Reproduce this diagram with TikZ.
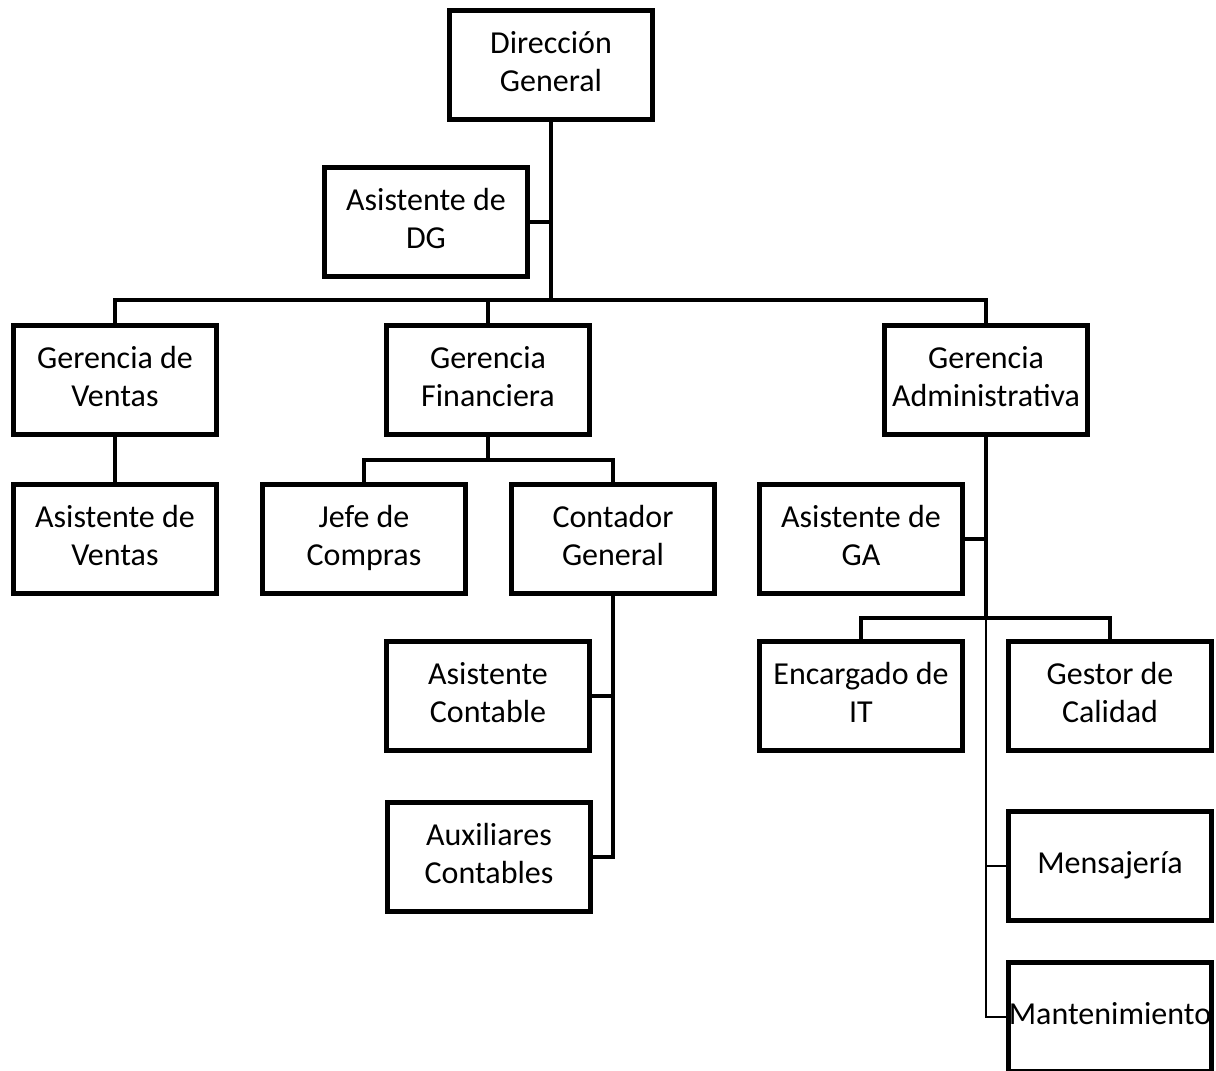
\documentclass[tikz,border=0pt]{standalone}
\usepackage{fontspec}
\setmainfont{Carlito}
\begin{document}
\begin{tikzpicture}[x=0.75pt,y=-0.75pt,
  unitbox/.style={draw, line width=4pt, fill=white, align=center,
    minimum width=152pt, minimum height=81.5pt, inner sep=0pt,
    text depth=6pt,
    font=\fontsize{24}{28.5}\selectfont},
  link/.style={line width=3.6pt},
  midlink/.style={line width=2.6pt},
  thinlink/.style={line width=1.8pt}]
\useasboundingbox (0,0) rectangle (1216,1070);
\clip (0,0) rectangle (1216,1070);

% boxes
\node[unitbox] (dg)   at (551,65)   {Dirección\\General};
\node[unitbox] (asdg) at (426,222)  {Asistente de\\DG};
\node[unitbox] (gv)   at (115,380)  {Gerencia de\\Ventas};
\node[unitbox] (gf)   at (488,380)  {Gerencia\\Financiera};
\node[unitbox] (ga)   at (986,380)  {Gerencia\\Administrativa};
\node[unitbox] (asv)  at (115,539)  {Asistente de\\Ventas};
\node[unitbox] (jc)   at (364,539)  {Jefe de\\Compras};
\node[unitbox] (cg)   at (613,539)  {Contador\\General};
\node[unitbox] (asga) at (861,539)  {Asistente de\\GA};
\node[unitbox] (asc)  at (488,696)  {Asistente\\Contable};
\node[unitbox] (auxc) at (489,857)  {Auxiliares\\Contables};
\node[unitbox] (eit)  at (861,696)  {Encargado de\\IT};
\node[unitbox] (gc)   at (1110,696) {Gestor de\\Calidad};
\node[unitbox] (mens) at (1110,866) {Mensajería};
\node[unitbox] (mant) at (1110,1017) {Mantenimiento};

% branch points
\coordinate (bus)  at (551,300);
\coordinate (gfb)  at (488,460);
\coordinate (gab)  at (986,618);

% top level
\draw[link] (dg.south) -- (bus);
\draw[midlink] (asdg.east) -- (asdg.east -| dg.south);
\draw[link] (gv.north) |- (bus) -| (ga.north);
\draw[link] (gf.north) -- (gf.north |- bus);

% ventas
\draw[link] (gv.south) -- (asv.north);

% financiera
\draw[link] (gf.south) -- (gfb);
\draw[link] (jc.north) |- (gfb) -| (cg.north);
\draw[link] (cg.south) |- (auxc.east);
\draw[midlink] (asc.east) -- (asc.east -| cg.south);

% administrativa
\draw[link] (ga.south) -- (gab);
\draw[midlink] (asga.east) -- (asga.east -| ga.south);
\draw[link] (eit.north) |- (gab) -| (gc.north);
\draw[thinlink] (gab) |- (mant.west);
\draw[thinlink] (mens.west) -- (mens.west -| ga.south);
\end{tikzpicture}
\end{document}
